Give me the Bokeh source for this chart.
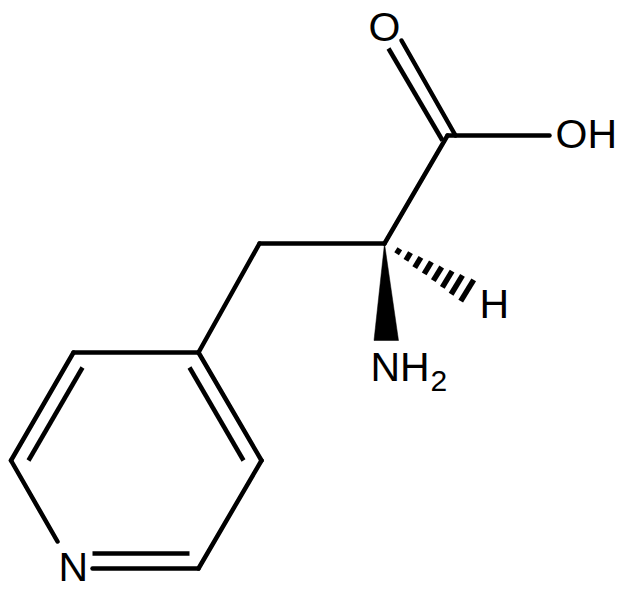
from bokeh.plotting import figure
from bokeh.models import Range1d
from bokeh.core.properties import value
from bokeh.embed import file_html
from bokeh.resources import INLINE

FONT = value("Liberation Sans")

# Bonds between skeleton atoms, in image pixels
bond_x0 = [447, 401, 447, 384, 259, 198, 73, 10.5, 198, 261, 92]
bond_y0 = [135, 40, 135, 243, 243, 352, 352, 460, 568, 460, 568]
bond_x1 = [549, 455, 384, 259, 198, 73, 10.5, 57, 261, 198, 198]
bond_y1 = [135, 135, 243, 243, 352, 352, 460, 541, 460, 352, 568]

# Inner strokes of the double bonds
inner_x0 = [388, 82, 189, 92]
inner_y0 = [48, 367, 367, 553]
inner_x1 = [442, 28, 243, 189]
inner_y1 = [140, 460, 460, 553]

# Solid wedge to NH2
wedge_x = [384, 373.5, 398]
wedge_y = [243, 340, 340]

# Hashed wedge to H: stripe ends
hash_x0 = [396.1, 405.4, 414.2, 423.7, 432.8, 441.8, 450.6, 460.2]
hash_y0 = [253.2, 259.8, 267.1, 273.3, 280.1, 286.8, 293.7, 300.6]
hash_x1 = [399.3, 410.0, 420.4, 430.9, 441.2, 451.6, 462.0, 473.2]
hash_y1 = [248.2, 252.2, 256.9, 261.3, 266.5, 270.6, 274.9, 279.4]

# Atom labels
label_text = ["O", "OH", "H", "NH", "N"]
label_x = [368, 555, 479, 370, 58]
label_y = [26.1, 133.6, 303.6, 366.6, 566.6]
sub_text = ["2"]
sub_x = [430]
sub_y = [380.75]

p = figure(width=624, height=590, output_backend="svg", toolbar_location=None,
           x_range=Range1d(0, 624), y_range=Range1d(590, 0),
           x_axis_location=None, y_axis_location=None,
           min_border=0, outline_line_color=None, background_fill_color="white")
p.xgrid.visible = False
p.ygrid.visible = False

p.segment(bond_x0, bond_y0, bond_x1, bond_y1, line_color="black", line_width=4.5, line_cap="round")
p.segment(inner_x0, inner_y0, inner_x1, inner_y1, line_color="black", line_width=4.5, line_cap="butt")
p.patch(wedge_x, wedge_y, fill_color="black", line_color="black", line_width=0.5)
p.segment(hash_x0, hash_y0, hash_x1, hash_y1, line_color="black", line_width=5.5, line_cap="butt")
p.text(label_x, label_y, text=label_text, text_font=FONT, text_font_size="41px",
       text_color="black", text_baseline="alphabetic", text_align="left")
p.text(sub_x, sub_y, text=sub_text, text_font=FONT, text_font_size="30px",
       text_color="black", text_baseline="alphabetic", text_align="left")

open("out.html", "w").write(file_html(p, INLINE))
